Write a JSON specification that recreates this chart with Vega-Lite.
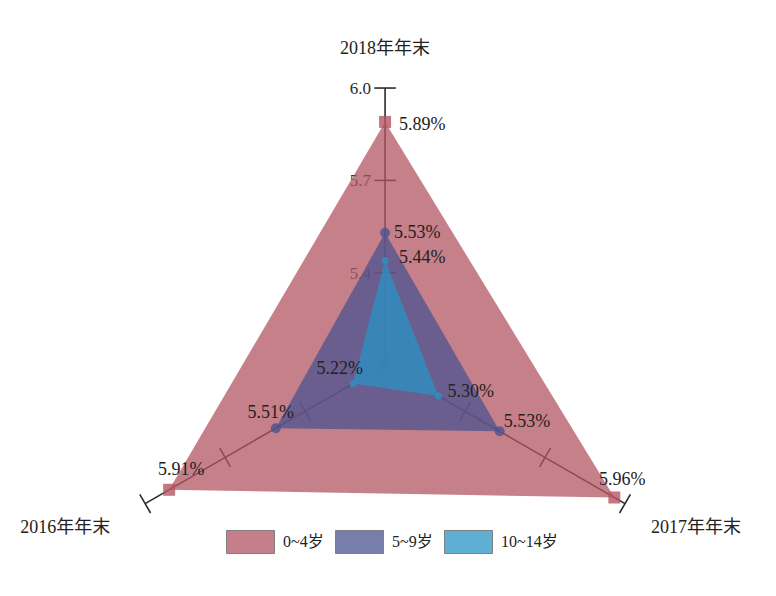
{
  "$schema": "https://vega.github.io/schema/vega-lite/v6.json",
  "width": 776,
  "height": 596,
  "autosize": "none",
  "padding": 0,
  "background": "white",
  "config": {"view": {"stroke": null}},
  "datasets": {
    "vals": [
      {"series": "0~4岁", "axis": "2018年年末", "value": 5.89},
      {"series": "0~4岁", "axis": "2017年年末", "value": 5.96},
      {"series": "0~4岁", "axis": "2016年年末", "value": 5.91},
      {"series": "5~9岁", "axis": "2018年年末", "value": 5.53},
      {"series": "5~9岁", "axis": "2017年年末", "value": 5.53},
      {"series": "5~9岁", "axis": "2016年年末", "value": 5.51},
      {"series": "10~14岁", "axis": "2018年年末", "value": 5.44},
      {"series": "10~14岁", "axis": "2017年年末", "value": 5.30},
      {"series": "10~14岁", "axis": "2016年年末", "value": 5.22}
    ],
    "axes": [
      {"axis": "2018年年末", "value": 6.0},
      {"axis": "2017年年末", "value": 6.0},
      {"axis": "2016年年末", "value": 6.0}
    ],
    "ticks": [
      {"axis": "2018年年末", "value": 5.1},
      {"axis": "2018年年末", "value": 5.4},
      {"axis": "2018年年末", "value": 5.7},
      {"axis": "2018年年末", "value": 6.0},
      {"axis": "2017年年末", "value": 5.1},
      {"axis": "2017年年末", "value": 5.4},
      {"axis": "2017年年末", "value": 5.7},
      {"axis": "2017年年末", "value": 6.0},
      {"axis": "2016年年末", "value": 5.1},
      {"axis": "2016年年末", "value": 5.4},
      {"axis": "2016年年末", "value": 5.7},
      {"axis": "2016年年末", "value": 6.0}
    ]
  },
  "layer": [
    {
      "data": {"name": "axes"},
      "transform": [
        {"calculate": "indexof(['2018年年末','2017年年末','2016年年末'], datum.axis) * 2 * PI / 3", "as": "theta"},
        {"calculate": "(datum.value - 5.1) * sin(datum.theta)", "as": "px"},
        {"calculate": "(datum.value - 5.1) * cos(datum.theta)", "as": "py"},
        {"calculate": "0", "as": "o"}
      ],
      "mark": {"type": "rule", "color": "#2a2a2a", "strokeWidth": 1.6},
      "encoding": {
        "x": {"field": "o", "type": "quantitative", "scale": {"domain": [-1.251, 1.27], "nice": false, "zero": false}, "axis": null},
        "y": {"field": "o", "type": "quantitative", "scale": {"domain": [-0.75, 1.186], "nice": false, "zero": false}, "axis": null},
        "x2": {"field": "px"},
        "y2": {"field": "py"}
      }
    },
    {
      "data": {"name": "ticks"},
      "transform": [
        {"calculate": "indexof(['2018年年末','2017年年末','2016年年末'], datum.axis) * 2 * PI / 3", "as": "theta"},
        {"calculate": "(datum.value - 5.1) * sin(datum.theta) - 0.035 * cos(datum.theta)", "as": "x1"},
        {"calculate": "(datum.value - 5.1) * sin(datum.theta) + 0.035 * cos(datum.theta)", "as": "x2"},
        {"calculate": "(datum.value - 5.1) * cos(datum.theta) + 0.035 * sin(datum.theta)", "as": "y1"},
        {"calculate": "(datum.value - 5.1) * cos(datum.theta) - 0.035 * sin(datum.theta)", "as": "y2"}
      ],
      "mark": {"type": "rule", "color": "#2a2a2a", "strokeWidth": 1.6},
      "encoding": {
        "x": {"field": "x1", "type": "quantitative", "scale": {"domain": [-1.251, 1.27], "nice": false, "zero": false}, "axis": null},
        "y": {"field": "y1", "type": "quantitative", "scale": {"domain": [-0.75, 1.186], "nice": false, "zero": false}, "axis": null},
        "x2": {"field": "x2"},
        "y2": {"field": "y2"}
      }
    },
    {
      "data": {"name": "ticks"},
      "transform": [
        {"filter": "datum.axis == '2018年年末' && datum.value > 5.2"},
        {"calculate": "0", "as": "px"},
        {"calculate": "datum.value - 5.1", "as": "py"},
        {"calculate": "format(datum.value, '.1f')", "as": "label"}
      ],
      "mark": {"type": "text", "align": "right", "baseline": "middle", "dx": -14, "dy": 1, "font": "Liberation Serif, Noto Sans CJK SC", "fontSize": 17, "color": "#2a2a2a"},
      "encoding": {
        "x": {"field": "px", "type": "quantitative", "scale": {"domain": [-1.251, 1.27], "nice": false, "zero": false}, "axis": null},
        "y": {"field": "py", "type": "quantitative", "scale": {"domain": [-0.75, 1.186], "nice": false, "zero": false}, "axis": null},
        "text": {"field": "label"}
      }
    },
    {
      "data": {"name": "vals"},
      "transform": [
        {"calculate": "indexof(['2018年年末','2017年年末','2016年年末'], datum.axis)", "as": "k"},
        {"calculate": "datum.k * 2 * PI / 3", "as": "theta"},
        {"calculate": "(datum.value - 5.1) * sin(datum.theta)", "as": "px"},
        {"calculate": "(datum.value - 5.1) * cos(datum.theta)", "as": "py"}
      ],
      "mark": {"type": "line", "filled": true, "opacity": 0.75, "strokeWidth": 0},
      "encoding": {
        "x": {"field": "px", "type": "quantitative", "scale": {"domain": [-1.251, 1.27], "nice": false, "zero": false}, "axis": null},
        "y": {"field": "py", "type": "quantitative", "scale": {"domain": [-0.75, 1.186], "nice": false, "zero": false}, "axis": null},
        "order": {"field": "k", "type": "quantitative"},
        "color": {
          "field": "series",
          "type": "nominal",
          "scale": {"domain": ["0~4岁", "5~9岁", "10~14岁"], "range": ["#b35563", "#4b538f", "#2a93c6"]},
          "legend": {
            "orient": "none",
            "legendX": 226,
            "legendY": 517,
            "direction": "horizontal",
            "title": null,
            "symbolType": "M-1,-0.48H1V0.48H-1Z",
            "symbolSize": 2304,
            "symbolStrokeColor": "#555555",
            "symbolStrokeWidth": 1,
            "symbolOpacity": 0.75,
            "labelFont": "Liberation Serif, Noto Sans CJK SC",
            "labelFontSize": 16,
            "labelColor": "#222222",
            "labelOffset": 8,
            "columnPadding": 9,
            "padding": 0
          }
        }
      }
    },
    {
      "data": {"name": "vals"},
      "transform": [
        {"filter": "datum.series == '0~4岁'"},
        {"calculate": "indexof(['2018年年末','2017年年末','2016年年末'], datum.axis) * 2 * PI / 3", "as": "theta"},
        {"calculate": "(datum.value - 5.1) * sin(datum.theta)", "as": "px"},
        {"calculate": "(datum.value - 5.1) * cos(datum.theta)", "as": "py"}
      ],
      "mark": {"type": "point", "shape": "square", "filled": true, "size": 144, "color": "#b35563", "opacity": 0.8},
      "encoding": {
        "x": {"field": "px", "type": "quantitative", "scale": {"domain": [-1.251, 1.27], "nice": false, "zero": false}, "axis": null},
        "y": {"field": "py", "type": "quantitative", "scale": {"domain": [-0.75, 1.186], "nice": false, "zero": false}, "axis": null}
      }
    },
    {
      "data": {"name": "vals"},
      "transform": [
        {"filter": "datum.series == '5~9岁'"},
        {"calculate": "indexof(['2018年年末','2017年年末','2016年年末'], datum.axis) * 2 * PI / 3", "as": "theta"},
        {"calculate": "(datum.value - 5.1) * sin(datum.theta)", "as": "px"},
        {"calculate": "(datum.value - 5.1) * cos(datum.theta)", "as": "py"}
      ],
      "mark": {"type": "point", "shape": "circle", "filled": true, "size": 100, "color": "#4b538f", "opacity": 0.8},
      "encoding": {
        "x": {"field": "px", "type": "quantitative", "scale": {"domain": [-1.251, 1.27], "nice": false, "zero": false}, "axis": null},
        "y": {"field": "py", "type": "quantitative", "scale": {"domain": [-0.75, 1.186], "nice": false, "zero": false}, "axis": null}
      }
    },
    {
      "data": {"name": "vals"},
      "transform": [
        {"filter": "datum.series == '10~14岁'"},
        {"calculate": "indexof(['2018年年末','2017年年末','2016年年末'], datum.axis) * 2 * PI / 3", "as": "theta"},
        {"calculate": "(datum.value - 5.1) * sin(datum.theta)", "as": "px"},
        {"calculate": "(datum.value - 5.1) * cos(datum.theta)", "as": "py"}
      ],
      "mark": {"type": "point", "shape": "circle", "filled": true, "size": 45, "color": "#2a93c6", "opacity": 0.8},
      "encoding": {
        "x": {"field": "px", "type": "quantitative", "scale": {"domain": [-1.251, 1.27], "nice": false, "zero": false}, "axis": null},
        "y": {"field": "py", "type": "quantitative", "scale": {"domain": [-0.75, 1.186], "nice": false, "zero": false}, "axis": null}
      }
    },
    {
      "data": {"name": "vals"},
      "transform": [
        {"filter": "datum.series == '0~4岁' && datum.axis == '2018年年末'"},
        {"calculate": "0", "as": "px"},
        {"calculate": "datum.value - 5.1", "as": "py"},
        {"calculate": "format(datum.value, '.2f') + '%'", "as": "label"}
      ],
      "mark": {"type": "text", "align": "left", "baseline": "middle", "dx": 14, "dy": 3, "font": "Liberation Serif, Noto Sans CJK SC", "fontSize": 18, "color": "#222222"},
      "encoding": {
        "x": {"field": "px", "type": "quantitative", "scale": {"domain": [-1.251, 1.27], "nice": false, "zero": false}, "axis": null},
        "y": {"field": "py", "type": "quantitative", "scale": {"domain": [-0.75, 1.186], "nice": false, "zero": false}, "axis": null},
        "text": {"field": "label"}
      }
    },
    {
      "data": {"name": "vals"},
      "transform": [
        {"filter": "datum.series == '5~9岁' && datum.axis == '2018年年末'"},
        {"calculate": "0", "as": "px"},
        {"calculate": "datum.value - 5.1", "as": "py"},
        {"calculate": "format(datum.value, '.2f') + '%'", "as": "label"}
      ],
      "mark": {"type": "text", "align": "left", "baseline": "middle", "dx": 9, "dy": 0, "font": "Liberation Serif, Noto Sans CJK SC", "fontSize": 18, "color": "#222222"},
      "encoding": {
        "x": {"field": "px", "type": "quantitative", "scale": {"domain": [-1.251, 1.27], "nice": false, "zero": false}, "axis": null},
        "y": {"field": "py", "type": "quantitative", "scale": {"domain": [-0.75, 1.186], "nice": false, "zero": false}, "axis": null},
        "text": {"field": "label"}
      }
    },
    {
      "data": {"name": "vals"},
      "transform": [
        {"filter": "datum.series == '10~14岁' && datum.axis == '2018年年末'"},
        {"calculate": "0", "as": "px"},
        {"calculate": "datum.value - 5.1", "as": "py"},
        {"calculate": "format(datum.value, '.2f') + '%'", "as": "label"}
      ],
      "mark": {"type": "text", "align": "left", "baseline": "middle", "dx": 14, "dy": -2, "font": "Liberation Serif, Noto Sans CJK SC", "fontSize": 18, "color": "#222222"},
      "encoding": {
        "x": {"field": "px", "type": "quantitative", "scale": {"domain": [-1.251, 1.27], "nice": false, "zero": false}, "axis": null},
        "y": {"field": "py", "type": "quantitative", "scale": {"domain": [-0.75, 1.186], "nice": false, "zero": false}, "axis": null},
        "text": {"field": "label"}
      }
    },
    {
      "data": {"name": "vals"},
      "transform": [
        {"filter": "datum.series == '10~14岁' && datum.axis == '2017年年末'"},
        {"calculate": "(datum.value - 5.1) * sin(2 * PI / 3)", "as": "px"},
        {"calculate": "(datum.value - 5.1) * cos(2 * PI / 3)", "as": "py"},
        {"calculate": "format(datum.value, '.2f') + '%'", "as": "label"}
      ],
      "mark": {"type": "text", "align": "left", "baseline": "middle", "dx": 9, "dy": -4, "font": "Liberation Serif, Noto Sans CJK SC", "fontSize": 18, "color": "#222222"},
      "encoding": {
        "x": {"field": "px", "type": "quantitative", "scale": {"domain": [-1.251, 1.27], "nice": false, "zero": false}, "axis": null},
        "y": {"field": "py", "type": "quantitative", "scale": {"domain": [-0.75, 1.186], "nice": false, "zero": false}, "axis": null},
        "text": {"field": "label"}
      }
    },
    {
      "data": {"name": "vals"},
      "transform": [
        {"filter": "datum.series == '5~9岁' && datum.axis == '2017年年末'"},
        {"calculate": "(datum.value - 5.1) * sin(2 * PI / 3)", "as": "px"},
        {"calculate": "(datum.value - 5.1) * cos(2 * PI / 3)", "as": "py"},
        {"calculate": "format(datum.value, '.2f') + '%'", "as": "label"}
      ],
      "mark": {"type": "text", "align": "left", "baseline": "middle", "dx": 4, "dy": -9, "font": "Liberation Serif, Noto Sans CJK SC", "fontSize": 18, "color": "#222222"},
      "encoding": {
        "x": {"field": "px", "type": "quantitative", "scale": {"domain": [-1.251, 1.27], "nice": false, "zero": false}, "axis": null},
        "y": {"field": "py", "type": "quantitative", "scale": {"domain": [-0.75, 1.186], "nice": false, "zero": false}, "axis": null},
        "text": {"field": "label"}
      }
    },
    {
      "data": {"name": "vals"},
      "transform": [
        {"filter": "datum.series == '0~4岁' && datum.axis == '2017年年末'"},
        {"calculate": "(datum.value - 5.1) * sin(2 * PI / 3)", "as": "px"},
        {"calculate": "(datum.value - 5.1) * cos(2 * PI / 3)", "as": "py"},
        {"calculate": "format(datum.value, '.2f') + '%'", "as": "label"}
      ],
      "mark": {"type": "text", "align": "center", "baseline": "middle", "dx": 8, "dy": -17, "font": "Liberation Serif, Noto Sans CJK SC", "fontSize": 18, "color": "#222222"},
      "encoding": {
        "x": {"field": "px", "type": "quantitative", "scale": {"domain": [-1.251, 1.27], "nice": false, "zero": false}, "axis": null},
        "y": {"field": "py", "type": "quantitative", "scale": {"domain": [-0.75, 1.186], "nice": false, "zero": false}, "axis": null},
        "text": {"field": "label"}
      }
    },
    {
      "data": {"name": "vals"},
      "transform": [
        {"filter": "datum.series == '10~14岁' && datum.axis == '2016年年末'"},
        {"calculate": "(datum.value - 5.1) * sin(4 * PI / 3)", "as": "px"},
        {"calculate": "(datum.value - 5.1) * cos(4 * PI / 3)", "as": "py"},
        {"calculate": "format(datum.value, '.2f') + '%'", "as": "label"}
      ],
      "mark": {"type": "text", "align": "right", "baseline": "middle", "dx": 10, "dy": -15, "font": "Liberation Serif, Noto Sans CJK SC", "fontSize": 18, "color": "#222222"},
      "encoding": {
        "x": {"field": "px", "type": "quantitative", "scale": {"domain": [-1.251, 1.27], "nice": false, "zero": false}, "axis": null},
        "y": {"field": "py", "type": "quantitative", "scale": {"domain": [-0.75, 1.186], "nice": false, "zero": false}, "axis": null},
        "text": {"field": "label"}
      }
    },
    {
      "data": {"name": "vals"},
      "transform": [
        {"filter": "datum.series == '5~9岁' && datum.axis == '2016年年末'"},
        {"calculate": "(datum.value - 5.1) * sin(4 * PI / 3)", "as": "px"},
        {"calculate": "(datum.value - 5.1) * cos(4 * PI / 3)", "as": "py"},
        {"calculate": "format(datum.value, '.2f') + '%'", "as": "label"}
      ],
      "mark": {"type": "text", "align": "center", "baseline": "middle", "dx": -5, "dy": -15, "font": "Liberation Serif, Noto Sans CJK SC", "fontSize": 18, "color": "#222222"},
      "encoding": {
        "x": {"field": "px", "type": "quantitative", "scale": {"domain": [-1.251, 1.27], "nice": false, "zero": false}, "axis": null},
        "y": {"field": "py", "type": "quantitative", "scale": {"domain": [-0.75, 1.186], "nice": false, "zero": false}, "axis": null},
        "text": {"field": "label"}
      }
    },
    {
      "data": {"name": "vals"},
      "transform": [
        {"filter": "datum.series == '0~4岁' && datum.axis == '2016年年末'"},
        {"calculate": "(datum.value - 5.1) * sin(4 * PI / 3)", "as": "px"},
        {"calculate": "(datum.value - 5.1) * cos(4 * PI / 3)", "as": "py"},
        {"calculate": "format(datum.value, '.2f') + '%'", "as": "label"}
      ],
      "mark": {"type": "text", "align": "center", "baseline": "middle", "dx": 12, "dy": -20, "font": "Liberation Serif, Noto Sans CJK SC", "fontSize": 18, "color": "#222222"},
      "encoding": {
        "x": {"field": "px", "type": "quantitative", "scale": {"domain": [-1.251, 1.27], "nice": false, "zero": false}, "axis": null},
        "y": {"field": "py", "type": "quantitative", "scale": {"domain": [-0.75, 1.186], "nice": false, "zero": false}, "axis": null},
        "text": {"field": "label"}
      }
    },
    {
      "data": {"name": "axes"},
      "transform": [
        {"filter": "datum.axis == '2018年年末'"},
        {"calculate": "0", "as": "px"},
        {"calculate": "datum.value - 5.1", "as": "py"}
      ],
      "mark": {"type": "text", "align": "center", "baseline": "middle", "dx": 0, "dy": -39, "font": "Liberation Serif, Noto Sans CJK SC", "fontSize": 18, "color": "#222222"},
      "encoding": {
        "x": {"field": "px", "type": "quantitative", "scale": {"domain": [-1.251, 1.27], "nice": false, "zero": false}, "axis": null},
        "y": {"field": "py", "type": "quantitative", "scale": {"domain": [-0.75, 1.186], "nice": false, "zero": false}, "axis": null},
        "text": {"field": "axis"}
      }
    },
    {
      "data": {"name": "axes"},
      "transform": [
        {"filter": "datum.axis == '2017年年末'"},
        {"calculate": "(datum.value - 5.1) * sin(2 * PI / 3)", "as": "px"},
        {"calculate": "(datum.value - 5.1) * cos(2 * PI / 3)", "as": "py"}
      ],
      "mark": {"type": "text", "align": "center", "baseline": "middle", "dx": 71, "dy": 24, "font": "Liberation Serif, Noto Sans CJK SC", "fontSize": 18, "color": "#222222"},
      "encoding": {
        "x": {"field": "px", "type": "quantitative", "scale": {"domain": [-1.251, 1.27], "nice": false, "zero": false}, "axis": null},
        "y": {"field": "py", "type": "quantitative", "scale": {"domain": [-0.75, 1.186], "nice": false, "zero": false}, "axis": null},
        "text": {"field": "axis"}
      }
    },
    {
      "data": {"name": "axes"},
      "transform": [
        {"filter": "datum.axis == '2016年年末'"},
        {"calculate": "(datum.value - 5.1) * sin(4 * PI / 3)", "as": "px"},
        {"calculate": "(datum.value - 5.1) * cos(4 * PI / 3)", "as": "py"}
      ],
      "mark": {"type": "text", "align": "center", "baseline": "middle", "dx": -80, "dy": 24, "font": "Liberation Serif, Noto Sans CJK SC", "fontSize": 18, "color": "#222222"},
      "encoding": {
        "x": {"field": "px", "type": "quantitative", "scale": {"domain": [-1.251, 1.27], "nice": false, "zero": false}, "axis": null},
        "y": {"field": "py", "type": "quantitative", "scale": {"domain": [-0.75, 1.186], "nice": false, "zero": false}, "axis": null},
        "text": {"field": "axis"}
      }
    }
  ]
}
